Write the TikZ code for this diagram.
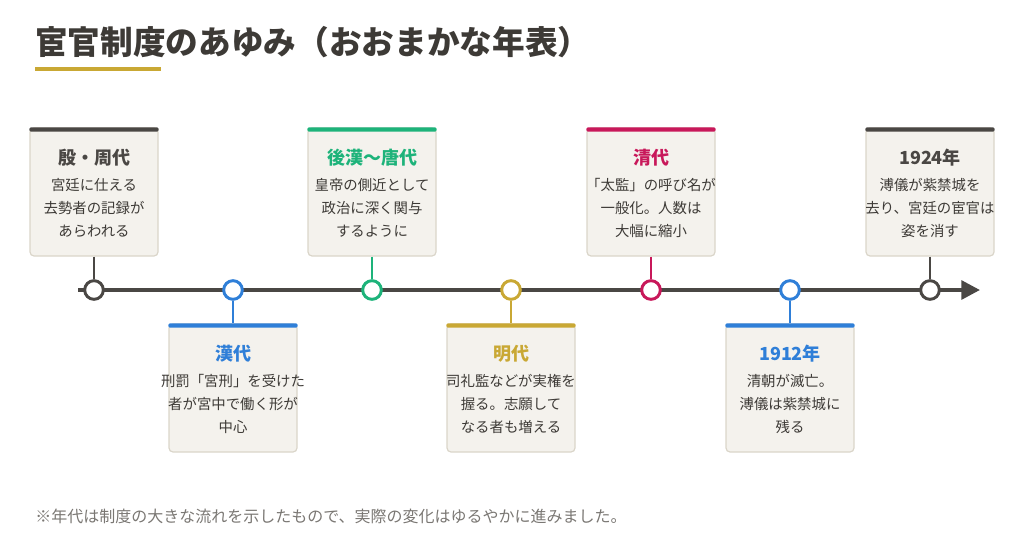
\documentclass[tikz,border=0pt]{standalone}
\usepackage{fontspec}
\setmainfont{Noto Sans CJK JP}
\usetikzlibrary{arrows.meta}
\definecolor{ink}{HTML}{3D3A36}
\definecolor{dk}{HTML}{4A4744}
\definecolor{bl}{HTML}{2F7FD8}
\definecolor{gr}{HTML}{1DB37A}
\definecolor{gd}{HTML}{C9A834}
\definecolor{cr}{HTML}{C8185A}
\definecolor{cardf}{HTML}{F4F2ED}
\definecolor{cardb}{HTML}{DAD5C9}
\definecolor{note}{HTML}{7A7773}
\tikzset{
 card/.style={draw=cardb,line width=0.9pt,fill=cardf,rounded corners=3pt,minimum width=96pt,minimum height=96pt,inner sep=0pt},
 ctitle/.style={font=\fontsize{13.5}{16}\selectfont\bfseries,anchor=center},
 cbody/.style={font=\fontsize{10.8}{17.25}\selectfont,align=center,anchor=north,text=ink,inner sep=0pt},
 dot/.style={circle,draw=#1,fill=white,line width=2.2pt,minimum size=14pt,inner sep=0pt},
 conn/.style={draw=#1,line width=1pt}
}
\newcommand{\mycard}[6]{% name, x, ytop, color, title, body
 \node[card] (#1) at (#2,#3+64) {};
 \fill[#4,rounded corners=1pt] (#1.north west) rectangle ([yshift=-3.2pt]#1.north east);
 \node[ctitle,text=#4] (#1t) at (#2,#3+30) {#5};
 \node[cbody] (#1b) at (#2,#3+50) {#6};
}
\begin{document}
\begin{tikzpicture}[x=0.75pt,y=-0.75pt]
\useasboundingbox (0,0) rectangle (1024,546);
\node[anchor=west,font=\fontsize{24.5}{28}\selectfont\bfseries,text=ink,inner sep=0pt] (title) at (35,42) {宦官制度のあゆみ（おおまかな年表）};
\fill[gd] (35,67) rectangle (161,71);
\coordinate (ls) at (78,290);
\coordinate (le) at (980,290);
\draw[dk,line width=3pt,-{Triangle[length=14pt,width=14pt]}] (ls) -- (le);
\node[dot=dk] (c1) at (94,290) {};
\node[dot=bl] (c2) at (233,290) {};
\node[dot=gr] (c3) at (372,290) {};
\node[dot=gd] (c4) at (511,290) {};
\node[dot=cr] (c5) at (651,290) {};
\node[dot=bl] (c6) at (790,290) {};
\node[dot=dk] (c7) at (930,290) {};
\mycard{k1}{94}{128}{dk}{殷・周代}{宮廷に仕える\\去勢者の記録が\\あらわれる}
\mycard{k2}{233}{324}{bl}{漢代}{刑罰「宮刑」を受けた\\者が宮中で働く形が\\中心}
\mycard{k3}{372}{128}{gr}{後漢〜唐代}{皇帝の側近として\\政治に深く関与\\するように}
\mycard{k4}{511}{324}{gd}{明代}{司礼監などが実権を\\握る。志願して\\なる者も増える}
\mycard{k5}{651}{128}{cr}{清代}{「太監」の呼び名が\\一般化。人数は\\大幅に縮小}
\mycard{k6}{790}{324}{bl}{1912年}{清朝が滅亡。\\溥儀は紫禁城に\\残る}
\mycard{k7}{930}{128}{dk}{1924年}{溥儀が紫禁城を\\去り、宮廷の宦官は\\姿を消す}
\draw[conn=dk] (k1.south) -- (c1.north);
\draw[conn=bl] (c2.south) -- (k2.north);
\draw[conn=gr] (k3.south) -- (c3.north);
\draw[conn=gd] (c4.south) -- (k4.north);
\draw[conn=cr] (k5.south) -- (c5.north);
\draw[conn=bl] (c6.south) -- (k6.north);
\draw[conn=dk] (k7.south) -- (c7.north);
\node[anchor=west,font=\fontsize{12}{14}\selectfont,text=note,inner sep=0pt] (fn) at (35,516) {※年代は制度の大きな流れを示したもので、実際の変化はゆるやかに進みました。};
\end{tikzpicture}
\end{document}
